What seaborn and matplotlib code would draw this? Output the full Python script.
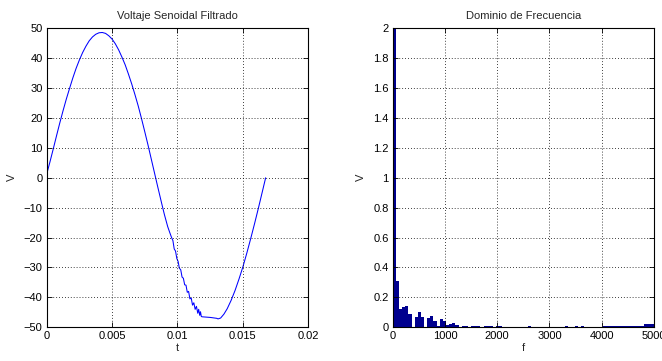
import numpy as np
import pandas as pd
import matplotlib
matplotlib.use("Agg")
import matplotlib.pyplot as plt
import seaborn as sns

# ---- left panel data: filtered sine (t in ms, V) ----
t_ms = [0.0, 0.25, 0.5, 0.75, 1.0, 1.25, 1.5, 1.75, 2.0, 2.25, 2.5, 2.75, 3.0, 3.25,
        3.5, 3.75, 4.0, 4.25, 4.5, 4.75, 5.0, 5.25, 5.5, 5.75, 6.0, 6.25, 6.5, 6.75,
        7.0, 7.25, 7.5, 7.75, 8.0, 8.25, 8.5, 8.75, 8.86, 9.0, 9.25, 9.4, 9.55, 9.65,
        9.75, 9.85, 9.95, 10.05, 10.14, 10.25, 10.35, 10.45, 10.55, 10.65, 10.75, 10.85,
        10.95, 11.05, 11.15, 11.25, 11.35, 11.45, 11.55, 11.62, 11.7, 11.76, 11.82, 11.9,
        12.5, 13.0, 13.1, 13.3, 13.55, 13.8, 14.1, 14.4, 14.7, 15.0, 15.3, 15.6, 15.9,
        16.2, 16.5, 16.74]
volts = [1.2, 5.3, 9.6, 14.0, 18.3, 22.4, 26.3, 29.9, 33.4, 36.6, 39.4, 41.9, 44.0, 45.8,
         47.1, 48.0, 48.5, 48.6, 48.3, 47.5, 46.4, 44.8, 42.8, 40.4, 37.8, 34.7, 31.4, 27.8,
         24.0, 19.8, 15.4, 10.9, 6.2, 1.5, -3.2, -7.8, -9.8, -12.3, -16.3, -18.2, -20.0, -21.0,
         -23.8, -24.5, -27.0, -28.0, -30.2, -30.8, -33.2, -33.6, -35.8, -35.9, -38.3, -38.0,
         -40.5, -40.2, -42.6, -41.8, -44.0, -43.0, -45.3, -44.0, -46.0, -44.8, -46.4, -46.5,
         -46.7, -47.0, -47.2, -46.9, -45.6, -43.8, -41.0, -37.7, -33.9, -29.8, -25.2, -20.3, -15.2,
         -9.9, -4.4, 0.0]

# ---- right panel data: spectrum magnitude per 60 Hz bin ----
bin_hz = 60
spectrum = [48.0, 0.31, 0.12, 0.135, 0.14, 0.09, 0.0, 0.07, 0.10, 0.07,
            0.0, 0.06, 0.075, 0.04, 0.01, 0.055, 0.045, 0.015, 0.02, 0.03,
            0.012, 0.005, 0.006, 0.008, 0.004, 0.01, 0.01, 0.009, 0.005, 0.01,
            0.01, 0.008, 0.004, 0.01, 0.008, 0.004, 0.003, 0.004, 0.005, 0.003,
            0.004, 0.004, 0.003, 0.01, 0.004, 0.004, 0.004, 0.004, 0.004, 0.004,
            0.004, 0.004, 0.004, 0.004, 0.004, 0.01, 0.004, 0.004, 0.01, 0.004,
            0.01, 0.004, 0.004, 0.004, 0.004, 0.004, 0.004, 0.01, 0.01, 0.01,
            0.01, 0.01, 0.01, 0.01, 0.01, 0.01, 0.01, 0.01, 0.01, 0.01,
            0.02, 0.02, 0.02, 0.02]
freq_centers = [bin_hz * k + bin_hz / 2 for k in range(len(spectrum))]

sns.set_theme(style="white")
plt.rcParams['font.family'] = ['Liberation Sans', 'DejaVu Sans']
plt.rcParams['font.size'] = 8

fig = plt.figure(figsize=(6.62, 3.61), dpi=100)
ax1 = fig.add_axes([0.0705, 0.0934, 0.3952, 0.8282])
ax2 = fig.add_axes([0.5932, 0.0934, 0.3947, 0.8282])

df1 = pd.DataFrame({"t": np.array(t_ms) / 1000.0, "V": volts})
sns.lineplot(data=df1, x="t", y="V", ax=ax1, color=(0, 0, 1), linewidth=0.75,
             sort=False, estimator=None)
ax1.set_xlim(0, 0.02)
ax1.set_ylim(-50, 50)
ax1.set_xticks([0, 0.005, 0.01, 0.015, 0.02])
ax1.set_xticklabels(["0", "0.005", "0.01", "0.015", "0.02"])
ax1.set_yticks(range(-50, 51, 10))
ax1.set_title("Voltaje Senoidal Filtrado", fontsize=8, pad=7)
ax1.set_xlabel("t", fontsize=8, labelpad=1)
ax1.set_ylabel("V", fontsize=8, labelpad=5)

df2 = pd.DataFrame({"f": freq_centers, "V": spectrum})
sns.barplot(data=df2, x="f", y="V", ax=ax2, native_scale=True, width=1.0,
            color="#00008F", saturation=1, errorbar=None, linewidth=0,
            edgecolor="#00008F")
ax2.set_xlim(0, 5000)
ax2.set_ylim(0, 2)
ax2.set_xticks(range(0, 5001, 1000))
ax2.set_xticklabels([str(v) for v in range(0, 5001, 1000)])
yt = [round(0.2 * i, 1) for i in range(11)]
ax2.set_yticks(yt)
ax2.set_yticklabels(["0", "0.2", "0.4", "0.6", "0.8", "1", "1.2", "1.4", "1.6", "1.8", "2"])
ax2.set_title("Dominio de Frecuencia", fontsize=8, pad=7)
ax2.set_xlabel("f", fontsize=8, labelpad=1)
ax2.set_ylabel("V", fontsize=8, labelpad=5)

for ax in (ax1, ax2):
    ax.grid(True, color="black", linestyle=(0, (1, 2.5)), linewidth=0.6)
    ax.set_axisbelow(False)
    for s in ax.spines.values():
        s.set_color("black")
        s.set_linewidth(0.8)
    ax.tick_params(direction="in", length=3.5, width=0.6, top=True, right=True,
                   bottom=True, left=True, labelsize=8, colors="black", pad=3)
    ax.set_facecolor("white")

fig.savefig("out.png", dpi=100, facecolor="white")
